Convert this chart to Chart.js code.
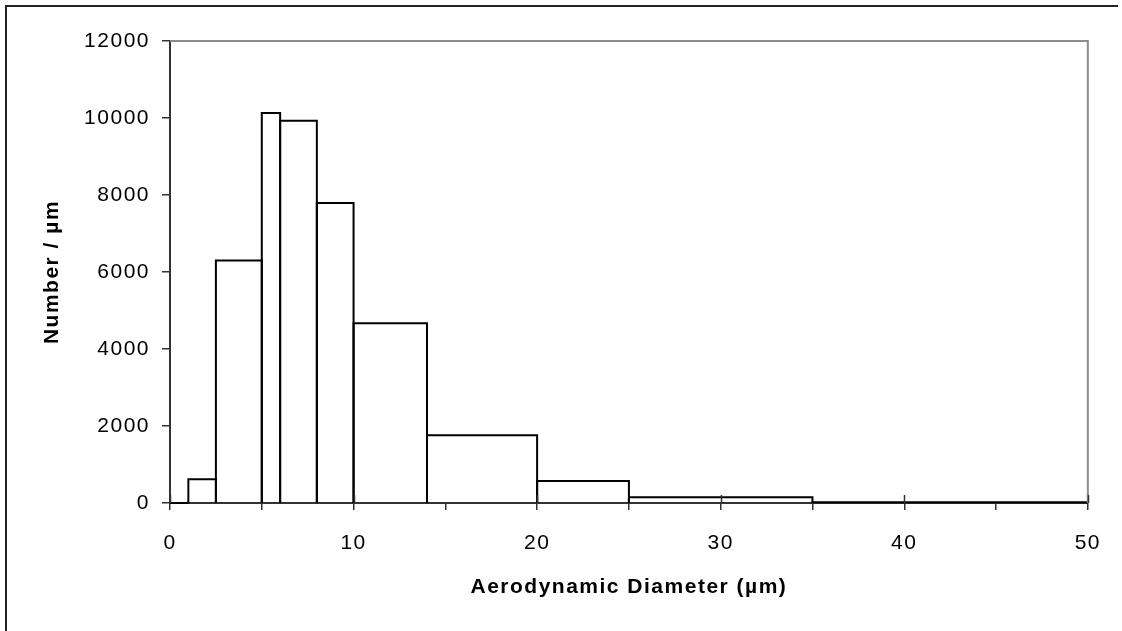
<!DOCTYPE html>
<html>
<head>
<meta charset="utf-8">
<script src="https://cdn.jsdelivr.net/npm/chart.js"></script>
<style>
    body { margin: 0; background: #fff; }
    #chart { display: block; }
</style>
</head>
<body>
<canvas id="chart" width="1122" height="631"></canvas>
<script>
// Limites de las clases (um) y numero por um en cada clase
const binEdges = [0, 1, 2.5, 5, 6, 8, 10, 14, 20, 25, 35, 50];
const counts = [0, 620, 6300, 10130, 9930, 7790, 4670, 1760, 570, 150, 20];
const xTicks = [0, 10, 20, 30, 40, 50];
const yTicks = [0, 2000, 4000, 6000, 8000, 10000, 12000];

const FONT = 'Liberation Sans, Arial, sans-serif';

// Cada barra del histograma es un rectangulo propio
const datasets = counts.map(function(h, i) {
    const x0 = binEdges[i];
    const x1 = binEdges[i + 1];
    return {
        data: [{x: x0, y: 0}, {x: x0, y: h}, {x: x1, y: h}, {x: x1, y: 0}],
        showLine: true,
        borderColor: '#000',
        borderWidth: 2,
        borderJoinStyle: 'miter',
        pointRadius: 0,
        fill: false,
        tension: 0,
        clip: false,
    };
});

// Espaciado de letras como en el original
const spacingPlugin = {
    id: 'spacing',
    beforeLayout(chart) { chart.ctx.letterSpacing = '1.5px'; },
    beforeDraw(chart) { chart.ctx.letterSpacing = '1.5px'; },
};

// Borde gris del area, marcas que cruzan el eje y marco exterior
const framePlugin = {
    id: 'frame',
    afterDraw(chart) {
        const ctx = chart.ctx;
        const a = chart.chartArea;
        const xs = chart.scales.x;
        ctx.save();
        ctx.strokeStyle = '#8c8c8c';
        ctx.lineWidth = 2;
        ctx.beginPath();
        ctx.moveTo(a.left, a.top);
        ctx.lineTo(a.right, a.top);
        ctx.lineTo(a.right, a.bottom);
        ctx.stroke();

        ctx.strokeStyle = '#333';
        ctx.lineWidth = 1.5;
        xTicks.forEach(function(v) {
            const px = Math.round(xs.getPixelForValue(v)) + 0.5;
            ctx.beginPath();
            ctx.moveTo(px, a.bottom - 8);
            ctx.lineTo(px, a.bottom);
            ctx.stroke();
        });

        ctx.strokeStyle = '#222';
        ctx.lineWidth = 2;
        ctx.beginPath();
        ctx.moveTo(6, 640);
        ctx.lineTo(6, 6);
        ctx.lineTo(1118, 6);
        ctx.stroke();
        ctx.restore();
    }
};

new Chart(document.getElementById('chart'), {
    type: 'scatter',
    data: { datasets: datasets },
    plugins: [spacingPlugin, framePlugin],
    options: {
        responsive: false,
        animation: false,
        layout: { padding: { left: 40, top: 41, right: 33, bottom: 0 } },
        plugins: {
            legend: { display: false },
            tooltip: { enabled: false },
        },
        scales: {
            x: {
                type: 'linear',
                min: 0,
                max: 50,
                afterFit: function(scale) { scale.height = 128; },
                afterBuildTicks: function(scale) {
                    scale.ticks = [0, 5, 10, 15, 20, 25, 30, 35, 40, 45, 50].map(function(v) { return {value: v}; });
                },
                ticks: {
                    autoSkip: false,
                    maxRotation: 0,
                    color: '#000',
                    padding: 21,
                    font: { family: FONT, size: 21 },
                    callback: function(value) {
                        return xTicks.includes(value) ? String(value) : '';
                    }
                },
                grid: {
                    drawOnChartArea: false,
                    drawTicks: true,
                    tickLength: 7,
                    color: '#333',
                    lineWidth: 1.5,
                },
                border: { display: true, color: '#333', width: 2 },
                title: {
                    display: true,
                    text: 'Aerodynamic Diameter (\u00b5m)',
                    color: '#000',
                    font: { family: FONT, size: 21, weight: 'bold' },
                    padding: { top: 0, bottom: 31 },
                }
            },
            y: {
                type: 'linear',
                min: 0,
                max: 12000,
                afterFit: function(scale) { scale.width = 130; },
                afterBuildTicks: function(scale) {
                    scale.ticks = yTicks.map(function(v) { return {value: v}; });
                },
                ticks: {
                    color: '#000',
                    padding: 12,
                    font: { family: FONT, size: 21 },
                    callback: function(value) { return String(value); }
                },
                grid: {
                    drawOnChartArea: false,
                    drawTicks: true,
                    tickLength: 8,
                    color: '#333',
                    lineWidth: 1.5,
                },
                border: { display: true, color: '#333', width: 2 },
                title: {
                    display: true,
                    text: 'Number / \u00b5m',
                    color: '#000',
                    font: { family: FONT, size: 21, weight: 'bold' },
                    padding: { top: 0, bottom: 0 },
                }
            }
        }
    }
});
</script>
</body>
</html>
